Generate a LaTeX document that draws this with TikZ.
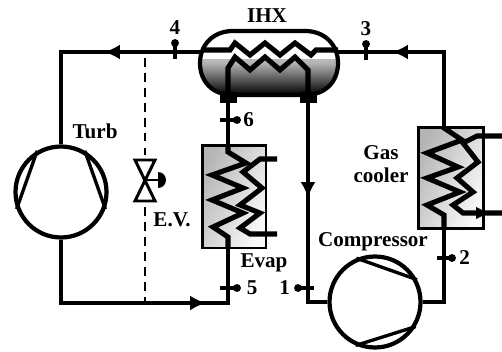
\documentclass[tikz,border=0pt]{standalone}
\usepackage{fontspec}
\setmainfont{Liberation Serif}
\usetikzlibrary{arrows.meta}
\begin{document}
\begin{tikzpicture}[x=0.02cm,y=-0.02cm]
\tikzstyle{pipe}=[line width=1.9pt,line join=miter]
\tikzstyle{coil}=[line width=2.9pt,line join=miter]
\tikzstyle{flow}=[-{Latex[length=9pt,width=8.5pt]},line width=1.9pt]
\tikzstyle{lab}=[font=\bfseries\fontsize{12pt}{13pt}\selectfont,inner sep=0pt]
\tikzstyle{mach}=[circle,draw,line width=2.4pt,minimum size=1.82cm,inner sep=0pt,fill=white]
\tikzstyle{hxbox}=[draw,line width=1.7pt,left color=gray!58,right color=gray!4,shading angle=65,inner sep=0pt]
\tikzstyle{spot}=[circle,fill,inner sep=0pt,minimum size=4.5pt]
\useasboundingbox (0,0) rectangle (502,351);

%machines
\node[mach] (turb) at (61,192) {};
\node[mach] (comp) at (375,302) {};
\draw[line width=1.9pt] (turb.120) -- (turb.201) (turb.60) -- (turb.339);
\draw[line width=1.9pt] (comp.113) -- (comp.28) (comp.246) -- (comp.329);

%boxes
\node[hxbox,minimum width=1.28cm,minimum height=2.06cm] (evap) at (234,196.5) {};
\node[hxbox,minimum width=1.3cm,minimum height=2.04cm] (cooler) at (450.5,178) {};

%the IHX shell
\draw[line width=2.4pt,path picture={\shade[top color=white,bottom color=black,middle color=gray!60] (200,60) rectangle (338,95);}]
  (233,31) -- (305,31) .. controls (325,31) and (338,45) .. (338,63) .. controls (338,82) and (325,95) .. (305,95) -- (233,95) .. controls (213,95) and (200,82) .. (200,63) .. controls (200,45) and (213,31) .. (233,31) -- cycle;
\fill (220,92) rectangle (237,103);
\fill (300,92) rectangle (317,103);
\coordinate (ihxa) at (228,100);
\coordinate (ihxb) at (308,100);
\coordinate (ihxl) at (203,52);
\coordinate (ihxr) at (338,52);

%the loop
\coordinate (tl) at (61,52);
\coordinate (bl) at (61,303);
\coordinate (br) at (228,303);
\coordinate (tr) at (444,52);
\coordinate (cr) at (444,302);
\coordinate (cl) at (308,302);
\draw[pipe] (turb.north) -- (tl) -- (ihxl);
\draw[pipe] (turb.south) -- (bl) -- (br) -- (evap.south -| br);
\draw[pipe] (ihxa) -- (evap.north -| ihxa);
\draw[pipe] (ihxr) -- (tr) -- (cooler.north -| tr);
\draw[pipe] (cooler.south -| cr) -- (cr) -- (comp.east);
\draw[pipe] (comp.west) -- (cl) -- (ihxb);
\draw[flow] (130,52) -- (104,52);
\draw[flow] (415,52) -- (392,52);
\draw[flow] (180,303) -- (206,303);
\draw[flow] (308,170) -- (308,198);

%dashed bypass and the valve
\draw[line width=1.7pt,dash pattern=on 5pt off 3.5pt] (145,58) -- (145,303);
\node[fill=white,inner sep=0pt,minimum width=0.5cm,minimum height=1cm] (valve) at (145,180) {};
\draw[line width=1.7pt,fill=white] (135,160) -- (155,160) -- (135,201) -- (155,201) -- cycle;
\draw[line width=1.7pt] (145,180) -- (158,180);
\fill (158,172) arc (90:-90:0.16cm) -- cycle;

%coils
\draw[coil] (228,145) -- (228,152) -- (246,163) -- (212,175) -- (243,188) -- (212,200) -- (243,213) -- (213,227) -- (228,237) -- (228,248);
\draw[coil] (277,159) -- (260,159) -- (243,172) -- (262,188) -- (240,205) -- (260,213) -- (240,228) -- (250,234) -- (277,234);
\draw[coil] (444,127) -- (444,128) -- (462,140) -- (427,153) -- (458,167) -- (427,178) -- (460,192) -- (427,205) -- (444,215) -- (444,229);
\draw[coil] (502,136) -- (477,136) -- (463,143) -- (478,162) -- (457,178) -- (473,192) -- (453,205) -- (463,213) -- (502,213);
\fill (476,207) -- (488,213) -- (476,219) -- cycle;
\draw[coil] (204,50) -- (230,50) -- (235,43) -- (250,55) -- (265,43) -- (280,55) -- (295,43) -- (311,55) -- (316,50) -- (338,50);
\draw[coil] (228,95) -- (228,68) -- (235,57) -- (250,70) -- (265,57) -- (280,70) -- (295,57) -- (308,70) -- (308,95);

%state points
\node[spot] (p4) at (175,43) {};
\draw[pipe] (p4.center) -- (175,59);
\node[lab,above=2pt] at (p4.north) {4};
\node[spot] (p3) at (366,44) {};
\draw[pipe] (p3.center) -- (366,60);
\node[lab,above=2pt] at (p3.north) {3};
\node[spot] (p6) at (237,120) {};
\draw[pipe] (p6.center) -- (220,120);
\node[lab,right=1pt] at (p6.east) {6};
\node[spot] (p5) at (237,288) {};
\draw[pipe] (p5.center) -- (220,288);
\node[lab,right=3pt] at (p5.east) {5};
\node[spot] (p1) at (298,288) {};
\draw[pipe] (p1.center) -- (314,288);
\node[lab,left=2pt] at (p1.west) {1};
\node[spot] (p2) at (452,258) {};
\draw[pipe] (p2.center) -- (437,258);
\node[lab,right=1.5pt] at (p2.east) {2};

%labels
\node[lab] (ihxlab) at (267,16) {IHX};
\node[lab] (turblab) at (95,131) {Turb};
\node[lab] (evlab) at (172,220) {E.V.};
\node[lab] (evaplab) at (264,263) {Evap};
\node[lab] (complab) at (373,242) {Compressor};
\node[lab,align=center] (gaslab) at (381,164) {Gas\\cooler};
\end{tikzpicture}
\end{document}
